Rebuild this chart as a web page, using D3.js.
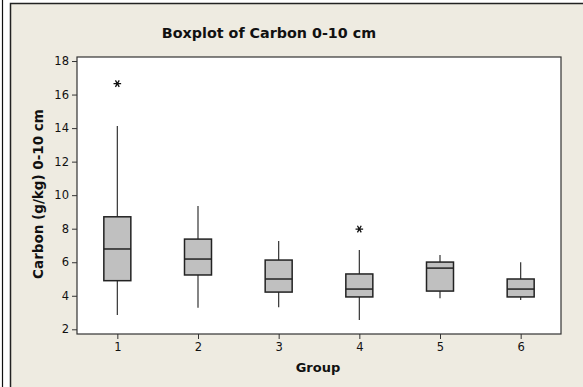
<!DOCTYPE html>
<html><head><meta charset="utf-8">
<script src="https://cdn.jsdelivr.net/npm/d3@7"></script>
<style>html,body{margin:0;padding:0;background:#fff;}svg{display:block;}</style>
</head><body>
<svg id="chart" width="583" height="387"></svg>
<script>
const groups = [1, 2, 3, 4, 5, 6];
const whiskerLow  = [2.85, 3.29, 3.31, 2.56, 3.85, 3.75];
const q1          = [4.90, 5.24, 4.22, 3.93, 4.28, 3.93];
const medians     = [6.79, 6.19, 5.00, 4.40, 5.65, 4.40];
const q3          = [8.71, 7.38, 6.13, 5.30, 6.01, 5.00];
const whiskerHigh = [14.13, 9.36, 7.26, 6.73, 6.43, 6.00];
const outlierGroups = [1, 4];
const outlierValues = [16.65, 7.98];
const yTicks = [2, 4, 6, 8, 10, 12, 14, 16, 18];

const svg = d3.select("#chart");
const font = "Tahoma, 'DejaVu Sans', sans-serif";

// outer panel
svg.append("rect").attr("x", 0).attr("y", 0).attr("width", 583).attr("height", 387).attr("fill", "#fff");
svg.append("line").attr("x1", 2.5).attr("x2", 2.5).attr("y1", 0).attr("y2", 387).attr("stroke", "#111").attr("stroke-width", 1.2);
svg.append("rect").attr("x", 10.5).attr("y", 3.5).attr("width", 580).attr("height", 390)
  .attr("fill", "#EEEBE1").attr("stroke", "#222").attr("stroke-width", 1.5);

const plot = {left: 77, right: 561, top: 57, bottom: 334};
const x = d3.scaleLinear().domain([0.5, 6.5]).range([plot.left, plot.right]);
const y = d3.scaleLinear().domain([1.72, 18.24]).range([plot.bottom, plot.top]);

svg.append("rect").attr("x", plot.left).attr("y", plot.top)
  .attr("width", plot.right - plot.left).attr("height", plot.bottom - plot.top)
  .attr("fill", "#fff").attr("stroke", "#333").attr("stroke-width", 1.2);

// axes
const yAxis = svg.append("g").attr("transform", `translate(${plot.left},0)`)
  .call(d3.axisLeft(y).tickValues(yTicks).tickSize(5).tickPadding(3).tickSizeOuter(0));
const xAxis = svg.append("g").attr("transform", `translate(0,${plot.bottom})`)
  .call(d3.axisBottom(x).tickValues(groups).tickFormat(d3.format("d")).tickSize(5).tickPadding(4).tickSizeOuter(0));
[yAxis, xAxis].forEach(g => {
  g.select(".domain").remove();
  g.selectAll("line").attr("stroke", "#333");
  g.selectAll("text").attr("font-family", font).attr("font-size", 11.5).attr("fill", "#111");
});

// boxes
const bw = 27;
const boxes = svg.append("g").selectAll("g").data(groups).join("g");
boxes.append("line")
  .attr("x1", d => x(d)).attr("x2", d => x(d))
  .attr("y1", (d, i) => y(q3[i])).attr("y2", (d, i) => y(whiskerHigh[i]))
  .attr("stroke", "#333").attr("stroke-width", 1.2);
boxes.append("line")
  .attr("x1", d => x(d)).attr("x2", d => x(d))
  .attr("y1", (d, i) => y(q1[i])).attr("y2", (d, i) => y(whiskerLow[i]))
  .attr("stroke", "#333").attr("stroke-width", 1.2);
boxes.append("rect")
  .attr("x", d => x(d) - bw / 2).attr("width", bw)
  .attr("y", (d, i) => y(q3[i])).attr("height", (d, i) => y(q1[i]) - y(q3[i]))
  .attr("fill", "#C0C0C0").attr("stroke", "#222").attr("stroke-width", 1.5);
boxes.append("line")
  .attr("x1", d => x(d) - bw / 2).attr("x2", d => x(d) + bw / 2)
  .attr("y1", (d, i) => y(medians[i])).attr("y2", (d, i) => y(medians[i]))
  .attr("stroke", "#222").attr("stroke-width", 1.5);

// outliers
svg.append("g").selectAll("path").data(outlierGroups).join("path")
  .attr("transform", (d, i) => `translate(${x(d)},${y(outlierValues[i])}) rotate(90)`)
  .attr("d", d3.symbol(d3.symbolAsterisk, 40))
  .attr("fill", "none").attr("stroke", "#111").attr("stroke-width", 1.3);

// titles
svg.append("text").attr("x", 269).attr("y", 38).attr("text-anchor", "middle")
  .attr("font-family", font).attr("font-weight", "bold").attr("font-size", 14.3).attr("fill", "#111")
  .text("Boxplot of Carbon 0-10 cm");
svg.append("text").attr("x", 318).attr("y", 372).attr("text-anchor", "middle")
  .attr("font-family", font).attr("font-weight", "bold").attr("font-size", 13).attr("fill", "#111")
  .text("Group");
svg.append("text").attr("transform", "translate(43,194) rotate(-90)").attr("text-anchor", "middle")
  .attr("font-family", font).attr("font-weight", "bold").attr("font-size", 13.5).attr("fill", "#111")
  .text("Carbon (g/kg) 0-10 cm");
</script>
</body></html>
